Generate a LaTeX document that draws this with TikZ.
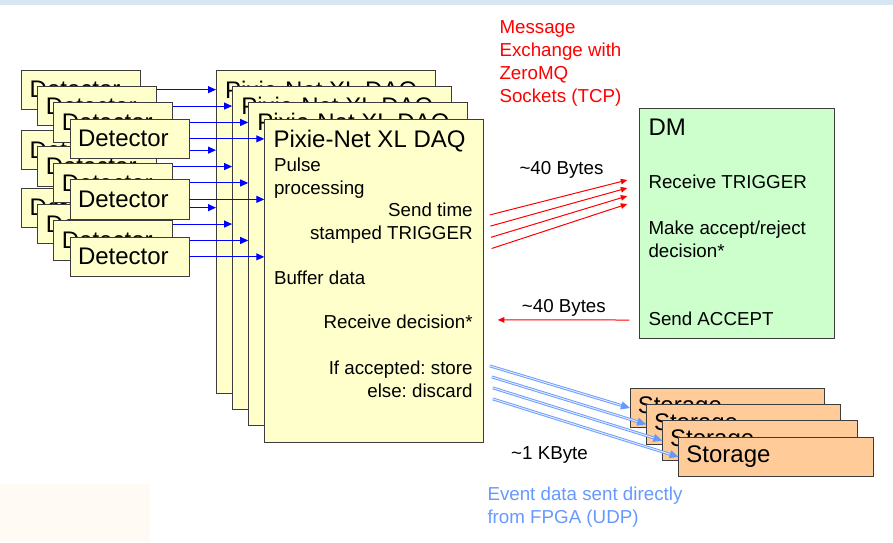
\documentclass[tikz,border=0pt]{standalone}
\usepackage{fontspec}
\setmainfont{Liberation Sans}
\usetikzlibrary{arrows.meta,calc,positioning}
\definecolor{DaqYellow}{HTML}{FFFFCC}
\definecolor{DmGreen}{HTML}{CCFFCC}
\definecolor{StoragePeach}{HTML}{FFCC99}
\definecolor{EdgeGray}{HTML}{3C3C3C}
\definecolor{LinkBlue}{HTML}{0000FF}
\definecolor{MsgRed}{HTML}{FF0000}
\definecolor{UdpBlue}{HTML}{6699FF}
\definecolor{BannerBlue}{HTML}{D6E6F3}
\definecolor{CornerCream}{HTML}{FFFAF3}
\newcommand{\bigfont}{\fontsize{24}{28}\selectfont}
\newcommand{\bodyfont}{\fontsize{18.75}{23}\selectfont}
\frenchspacing
\tikzset{
  box/.style={draw=EdgeGray,line width=1pt,inner sep=0pt,outer sep=0pt,anchor=north west},
  detbox/.style={box,fill=DaqYellow,minimum width=119pt,minimum height=39.3pt,text width=103pt,align=left,font=\bigfont},
  storebox/.style={box,fill=StoragePeach,minimum width=194.6pt,minimum height=39.4pt,text width=179pt,align=left,font=\bigfont},
  daqbox/.style={box,fill=DaqYellow,minimum width=219.5pt,minimum height=323pt},
  dmbox/.style={box,fill=DmGreen,minimum width=194.7pt,minimum height=229.6pt},
  boardtitle/.style={inner sep=0pt,anchor=base west,font=\bigfont},
  boardtext/.style={inner sep=0pt,font=\bodyfont},
  msgnote/.style={boardtext,anchor=base west,text=MsgRed},
  udpnote/.style={boardtext,anchor=base west,text=UdpBlue},
  linkarrow/.style={-{Triangle[length=8pt,width=7pt]},line width=1pt,draw=LinkBlue},
  msgarrow/.style={-{Triangle[length=6.5pt,width=5.5pt]},line width=1pt,draw=MsgRed},
  dataarrow/.style={-{Triangle[length=9pt,width=8pt,color=UdpBlue,fill=UdpBlue]},line width=0.9pt,draw=UdpBlue,double=UdpBlue!20,double distance=1pt}
}
\begin{document}
\begin{tikzpicture}[x=1pt,y=-1pt]
  \useasboundingbox (0,0) rectangle (893,542);
  \fill[BannerBlue] (0,0) rectangle (893,5);
  \fill[CornerCream] (0,484) rectangle (150,542);

  % DAQ boards, back to front
  \foreach \i in {1,...,4}{
    \node[daqbox] (daq\i) at ({216+16.1*(\i-1)},{70+16.4*(\i-1)}) {};
    \node[boardtitle] (daqtitle\i) at ($(daq\i.north west)+(9,28)$) {Pixie-Net XL DAQ};
  }
  \node[boardtext,anchor=base west] (pulse) at ($(daq4.north west)+(9.5,52)$) {Pulse};
  \node[boardtext,anchor=base west] (proc) at ($(daq4.north west)+(9.5,75)$) {processing};
  \node[boardtext,anchor=base east] (sendtime) at ($(daq4.north east)+(-11,97.4)$) {Send time};
  \node[boardtext,anchor=base east] (stamped) at ($(daq4.north east)+(-11,120.4)$) {stamped TRIGGER};
  \node[boardtext,anchor=base west] (buffer) at ($(daq4.north west)+(9.5,165.4)$) {Buffer data};
  \node[boardtext,anchor=base east] (recvdec) at ($(daq4.north east)+(-11,209.4)$) {Receive decision*};
  \node[boardtext,anchor=base east] (ifacc) at ($(daq4.north east)+(-11,255.7)$) {If accepted: store};
  \node[boardtext,anchor=base east] (elsedis) at ($(daq4.north east)+(-11,278.7)$) {else: discard};

  % detector stacks, back to front, each one wired to its board
  \foreach \g/\gy in {3/188,2/130.5,1/70}{
    \foreach \i in {1,...,4}{
      \node[detbox] (det\g\i) at ({21.7+16.1*(\i-1)},{\gy+16.4*(\i-1)}) {Detector};
      \draw[linkarrow] (det\g\i.east) -- (det\g\i.east -| daq\i.west);
    }
  }

  % decision maker
  \node[dmbox] (dm) at (639.3,108.7) {};
  \node[boardtitle] (dmtitle) at ($(dm.north west)+(9,26.8)$) {DM};
  \node[boardtext,anchor=base west] (recvtrig) at ($(dm.north west)+(9,79.7)$) {Receive TRIGGER};
  \node[boardtext,anchor=base west] (makeacc) at ($(dm.north west)+(9,125.3)$) {Make accept/reject};
  \node[boardtext,anchor=base west] (decision) at ($(dm.north west)+(9,148.3)$) {decision*};
  \node[boardtext,anchor=base west] (sendacc) at ($(dm.north west)+(9,216.3)$) {Send ACCEPT};

  % message exchange
  \foreach \t [count=\k] in {Message,{Exchange with},ZeroMQ,{Sockets (TCP)}}
    \node[msgnote] (msg\k) at (499.3,{33.4+23*(\k-1)}) {\t};
  \foreach \i in {1,...,4}{
    \coordinate (trig\i) at ($(daq4.north east)+({6+0.6*(\i-1)},{95.7+11.2*(\i-1)})$);
    \coordinate (dmin\i) at ($(dm.north west)+(-12,{71.3+8*(\i-1)})$);
    \draw[msgarrow] (trig\i) -- (dmin\i);
  }
  \node[boardtext,anchor=base west] (trigsize) at (519.3,174.4) {\textasciitilde40 Bytes};
  \coordinate (accout) at ($(dm.north west)+(-10,211.3)$);
  \coordinate (accin) at ($(daq4.north east)+(14,200.7)$);
  \draw[msgarrow] (accout) -- (accin);
  \node[boardtext,anchor=base west] (accsize) at (521.7,312.4) {\textasciitilde40 Bytes};

  % storage stack and event data
  \foreach \i in {1,...,4}
    \node[storebox] (sto\i) at ({630+16.2*(\i-1)},{388.3+16.3*(\i-1)}) {Storage};
  \foreach \i/\dx in {1/6,2/8,3/9,4/9}{
    \coordinate (evt\i) at ($(daq4.north east)+(\dx,{246.7+11*(\i-1)})$);
    \draw[dataarrow] (evt\i) -- (sto\i.west);
  }
  \node[boardtext,anchor=base west] (evtsize) at (511,459.4) {\textasciitilde1 KByte};
  \node[udpnote] (udp1) at (487.3,500) {Event data sent directly};
  \node[udpnote] (udp2) at (487.3,523) {from FPGA (UDP)};
\end{tikzpicture}
\end{document}
